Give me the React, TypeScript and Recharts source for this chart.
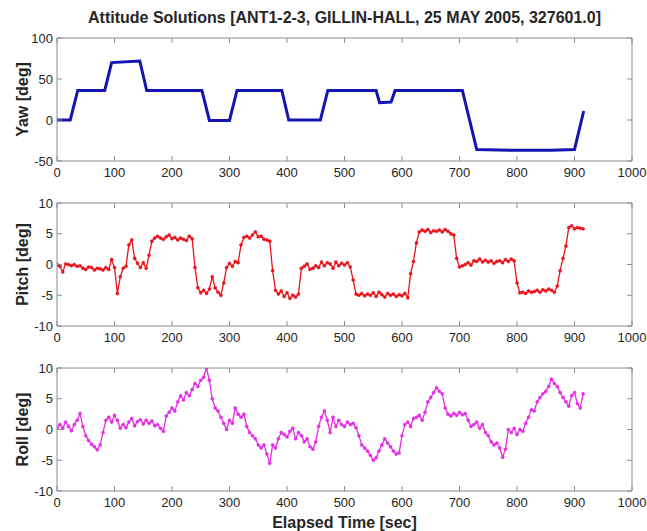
import { LineChart, Line, XAxis, YAxis, ReferenceArea, Label } from "recharts";

const FONT = '"Liberation Sans", Arial, Helvetica, sans-serif';
const BOX = "#8c8c8c";
const TXT = "#262626";
const PLOT_W = 575;
const PLOT_H = 123;

const X_TICKS = [0, 100, 200, 300, 400, 500, 600, 700, 800, 900, 1000];
const YAW_TICKS = [-50, 0, 50, 100];
const PR_TICKS = [-10, -5, 0, 5, 10];

// yaw: corner points of the slews
const YAW_T = [0, 23, 36, 83, 95, 144, 156, 252, 265, 300, 313, 391, 403, 458, 471, 555, 561, 581, 588, 705, 730, 800, 860, 900, 916];
const YAW = [0, 0, 36, 36, 70, 72, 36, 36, -0.5, -0.5, 36, 36, 0, 0, 36, 36, 21, 22, 36, 36, -36, -37, -37, -36, 11];

// pitch / roll sampled every 5 sec
const TIME = [
  0, 5, 10, 15, 20, 25, 30, 35, 40, 45, 50, 55, 60, 65, 70, 75, 80, 85, 90, 95,
  100, 105, 110, 115, 120, 125, 130, 135, 140, 145, 150, 155, 160, 165, 170, 175, 180, 185, 190, 195,
  200, 205, 210, 215, 220, 225, 230, 235, 240, 245, 250, 255, 260, 265, 270, 275, 280, 285, 290, 295,
  300, 305, 310, 315, 320, 325, 330, 335, 340, 345, 350, 355, 360, 365, 370, 375, 380, 385, 390, 395,
  400, 405, 410, 415, 420, 425, 430, 435, 440, 445, 450, 455, 460, 465, 470, 475, 480, 485, 490, 495,
  500, 505, 510, 515, 520, 525, 530, 535, 540, 545, 550, 555, 560, 565, 570, 575, 580, 585, 590, 595,
  600, 605, 610, 615, 620, 625, 630, 635, 640, 645, 650, 655, 660, 665, 670, 675, 680, 685, 690, 695,
  700, 705, 710, 715, 720, 725, 730, 735, 740, 745, 750, 755, 760, 765, 770, 775, 780, 785, 790, 795,
  800, 805, 810, 815, 820, 825, 830, 835, 840, 845, 850, 855, 860, 865, 870, 875, 880, 885, 890, 895,
  900, 905, 910, 915,
];

const PITCH = [
  0, -0.3, -1.2, 0.1, 0, -0.2, 0, -0.3, -0.2, -0.6, -0.8, -0.4, -0.5, -0.9, -0.6, -0.7, -0.9, -0.5, -0.8, 0.8,
  -0.5, -4.7, -2.0, -0.6, -0.3, 3.2, 4.0, 1.0, 0.2, -0.5, 0.3, -0.6, 1.5, 3.8, 4.3, 4.6, 4.3, 4.1, 4.5, 4.8,
  4.2, 4.4, 4.0, 4.3, 4.1, 3.9, 4.6, 4.2, -0.5, -3.8, -4.6, -4.2, -4.7, -4.0, -2.0, -3.8, -4.5, -5.0, -3.0, -0.5,
  0.2, -0.3, 0.5, 0.3, 3.2, 4.4, 4.6, 4.3, 4.8, 5.3, 4.5, 4.6, 4.1, 4.0, 3.8, -1.0, -4.2, -4.8, -4.3, -5.2,
  -4.6, -5.5, -5.0, -5.3, -4.8, -0.6, -0.3, 0.1, -0.8, -0.6, -0.2, -0.5, 0.4, -0.2, 0.3, 0.1, -0.6, 0.4, -0.2, 0.2,
  -0.1, 0.3, -0.4, -2.5, -4.8, -5.0, -4.7, -5.1, -4.8, -5.0, -4.6, -5.2, -4.5, -4.9, -5.3, -4.7, -5.0, -4.8, -5.2, -4.9,
  -5.1, -4.7, -5.4, -1.5, 0.5, 3.5, 5.3, 5.6, 5.4, 5.7, 5.2, 5.5, 5.4, 5.6, 5.3, 5.7, 5.4, 5.0, 4.8, 1.0,
  -0.4, -0.2, 0.0, 0.3, -0.1, 0.6, 0.5, 0.9, 0.4, 0.7, 0.4, 0.6, 0.2, 0.5, 0.6, 0.3, 0.8, 0.5, 0.9, 0.6,
  -3.0, -4.6, -4.5, -4.7, -4.3, -4.5, -4.4, -4.2, -4.5, -4.1, -4.3, -4.0, -4.2, -4.5, -3.5, -1.0, 1.0, 3.0, 6.0, 6.3,
  5.8, 6.0, 5.9, 5.8,
];

const ROLL = [
  0.3, 0.8, 0.2, 1.2, 0.5, -0.2, 0.8, 1.5, 2.6, 0.5, -1.0, -1.8, -2.4, -2.8, -3.3, -2.5, -0.5, 1.5, 2.0, 1.2,
  2.3, 1.5, 0.2, 0.8, 0.3, 1.2, 1.8, 0.6, 1.3, 1.6, 0.9, 1.5, 1.0, 1.4, 0.6, 0.8, 0.2, -0.3, 2.2, 2.8,
  3.5, 3.0, 4.5, 5.5, 4.8, 6.0, 5.5, 6.5, 7.5, 7.0, 8.0, 8.5, 10.0, 8.0, 5.0, 3.5, 3.0, 2.0, 1.0, 0.0,
  1.5, 1.0, 3.5, 2.5, 2.0, 2.5, 0.5, -0.5, -1.0, -1.5, -2.5, -3.0, -2.5, -4.0, -5.5, -2.5, -3.0, -1.5, -0.5, -0.8,
  -1.2, -0.3, 0.2, -1.5, -0.5, -1.0, -2.0, -1.5, -2.8, -3.2, -2.0, 0.5, 2.0, 3.0, 1.5, -0.5, 2.0, 0.5, 1.5, 0.8,
  0.5, 1.2, 0.8, 1.0, 0.3, -1.0, -2.5, -3.0, -3.5, -4.2, -5.0, -4.6, -3.5, -2.5, -1.5, -2.2, -2.8, -3.5, -4.0, -3.8,
  -1.0, 0.8, 1.2, 0.5, 1.8, 2.0, 2.3, 1.5, 2.8, 4.5, 5.2, 6.0, 6.8, 6.2, 5.8, 3.5, 2.5, 2.2, 2.6, 2.3,
  2.8, 2.4, 2.6, 1.5, 0.5, 0.8, 1.2, 0.2, 0.8, -0.5, -1.0, -2.0, -2.5, -2.2, -3.0, -4.5, -3.2, 0.0, -0.5, 0.2,
  -0.8, 0.0, -0.3, 1.0, 2.0, 3.2, 3.0, 4.5, 5.2, 5.8, 6.2, 7.0, 8.2, 7.5, 7.0, 6.0, 5.2, 4.5, 3.8, 5.5,
  6.0, 4.2, 3.5, 5.8,
];

const yawData = YAW_T.map((t, i) => ({ t, v: YAW[i] }));
const pitchData = TIME.map((t, i) => ({ t, v: PITCH[i] }));
const rollData = TIME.map((t, i) => ({ t, v: ROLL[i] }));

const X_GAP = 6;
const Y_GAP = 4;

// MATLAB style: ticks point inward, mirrored on the opposite side
function XTick(props: any) {
  const { x, y, payload } = props;
  const ay = y - X_GAP;
  return (
    <g>
      <line x1={x} x2={x} y1={ay} y2={ay - 5} stroke={BOX} />
      <line x1={x} x2={x} y1={ay - PLOT_H} y2={ay - PLOT_H + 5} stroke={BOX} />
      <text x={x} y={y} dy="0.75em" textAnchor="middle" fill={TXT} fontSize={13} fontFamily={FONT}>
        {payload.value}
      </text>
    </g>
  );
}

function YTick(props: any) {
  const { x, y, payload } = props;
  const ax = x + Y_GAP;
  return (
    <g>
      <line x1={ax} x2={ax + 5} y1={y} y2={y} stroke={BOX} />
      <line x1={ax + PLOT_W} x2={ax + PLOT_W - 5} y1={y} y2={y} stroke={BOX} />
      <text x={x} y={y} dy="0.36em" textAnchor="end" fill={TXT} fontSize={13} fontFamily={FONT}>
        {payload.value}
      </text>
    </g>
  );
}

type PanelProps = {
  top: number;
  data: { t: number; v: number }[];
  domain: [number, number];
  ticks: number[];
  label: string;
  color: string;
  width: number;
  dots: boolean;
  xLabel?: string;
};

function Panel({ top, data, domain, ticks, label, color, width, dots, xLabel }: PanelProps) {
  return (
    <div style={{ position: "absolute", left: 0, top }}>
      <LineChart width={647} height={178} data={data} margin={{ top: 10, right: 15, bottom: 0, left: 0 }}>
        <XAxis
          type="number"
          dataKey="t"
          domain={[0, 1000]}
          ticks={X_TICKS}
          allowDataOverflow
          height={45}
          tickSize={0}
          tickMargin={X_GAP}
          axisLine={false}
          tick={<XTick />}
          interval={0}
        >
          {xLabel && (
            <Label
              value={xLabel}
              position="insideBottom"
              offset={8}
              style={{ fontFamily: FONT, fontSize: 16, fontWeight: "bold", fill: TXT }}
            />
          )}
        </XAxis>
        <YAxis
          type="number"
          domain={domain}
          ticks={ticks}
          allowDataOverflow
          width={57}
          tickSize={0}
          tickMargin={Y_GAP}
          axisLine={false}
          tick={<YTick />}
          interval={0}
        >
          <Label
            value={label}
            angle={-90}
            position="insideLeft"
            offset={22}
            style={{ fontFamily: FONT, fontSize: 16, fontWeight: "bold", fill: TXT, textAnchor: "middle" }}
          />
        </YAxis>
        <ReferenceArea x1={0} x2={1000} y1={domain[0]} y2={domain[1]} fill="none" stroke={BOX} strokeWidth={1} />
        <Line
          type="linear"
          dataKey="v"
          stroke={color}
          strokeWidth={width}
          dot={dots ? { r: 1.5, fill: color, stroke: color, strokeWidth: 0.6 } : false}
          activeDot={false}
          isAnimationActive={false}
        />
      </LineChart>
    </div>
  );
}

export default function App() {
  return (
    <div
      style={{
        position: "absolute",
        left: 0,
        top: 0,
        width: 647,
        height: 531,
        overflow: "hidden",
        background: "#fff",
        fontFamily: FONT,
      }}
    >
      <div
        style={{
          position: "absolute",
          left: 57,
          top: 8,
          width: 575,
          textAlign: "center",
          fontSize: 16,
          fontWeight: "bold",
          color: TXT,
          lineHeight: "20px",
          whiteSpace: "nowrap",
        }}
      >
        Attitude Solutions [ANT1-2-3, GILLIN-HALL, 25 MAY 2005, 327601.0]
      </div>
      <Panel top={28} data={yawData} domain={[-50, 100]} ticks={YAW_TICKS} label="Yaw [deg]" color="#1414b4" width={3} dots={false} />
      <Panel top={193} data={pitchData} domain={[-10, 10]} ticks={PR_TICKS} label="Pitch [deg]" color="#e8141b" width={1.3} dots />
      <Panel
        top={358}
        data={rollData}
        domain={[-10, 10]}
        ticks={PR_TICKS}
        label="Roll [deg]"
        color="#e52ee5"
        width={1.3}
        dots
        xLabel="Elapsed Time [sec]"
      />
    </div>
  );
}
